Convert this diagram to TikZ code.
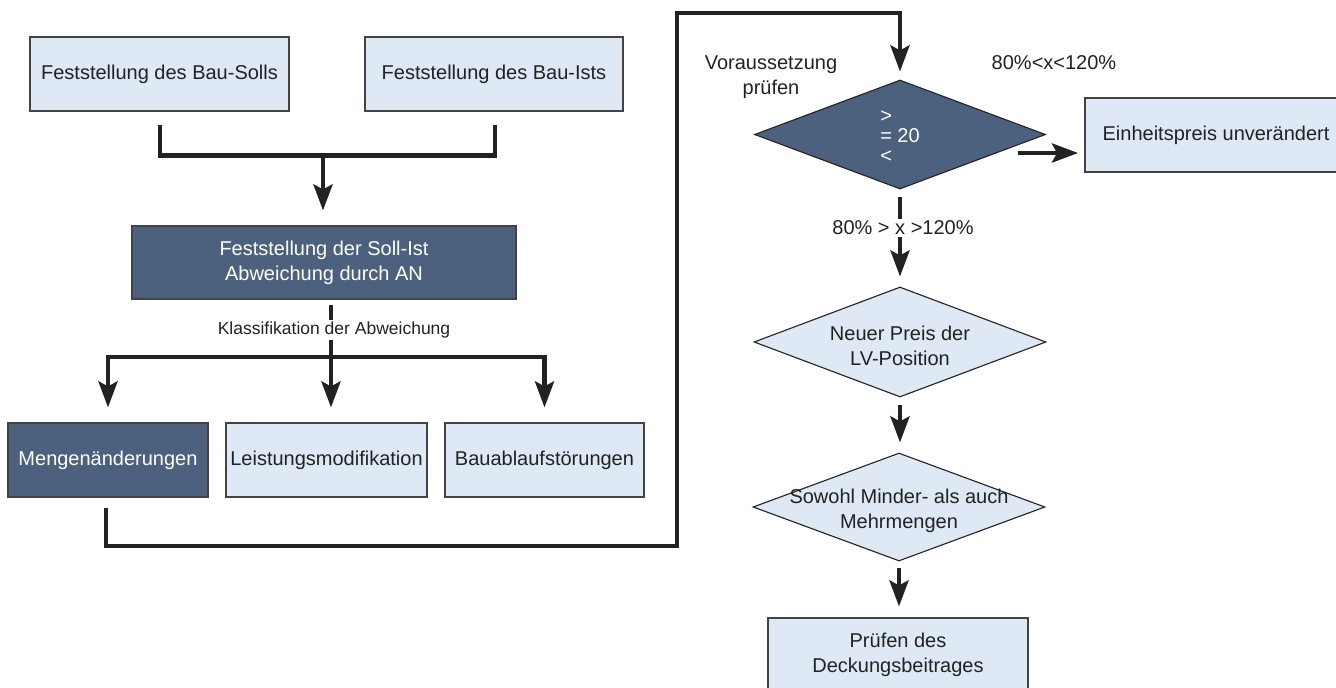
\documentclass[tikz,border=0pt]{standalone}
\usepackage{fontspec}
\setmainfont{Liberation Sans}
\usetikzlibrary{arrows.meta,shapes.geometric}
\definecolor{paleblue}{RGB}{222,233,245}
\definecolor{slate}{RGB}{76,97,126}
\definecolor{ink}{RGB}{34,34,34}
\begin{document}
\begin{tikzpicture}[x=1pt,y=-1pt,
  every node/.style={font=\fontsize{20}{25}\selectfont, text=ink},
  lightbox/.style={draw=ink!85, line width=1.1pt, fill=paleblue,
    minimum height=74pt, inner sep=0pt, align=center},
  darkbox/.style={lightbox, fill=slate, text=white},
  ddia/.style={diamond, draw=ink, line width=1.1pt, fill=slate, inner sep=0pt},
  ldia/.style={ddia, fill=paleblue},
  conn/.style={draw=ink, line width=4.5pt},
  arr/.style={conn, -{Stealth[length=26pt,width=19pt,inset=5pt]}},
  lbl/.style={fill=white, inner sep=1.5pt, align=center}
]
\fill[white] (0,0) rectangle (1336,688);
\useasboundingbox (0,0) rectangle (1336,688);

% left part: determination and classification
\node[lightbox, minimum width=259pt] (soll) at (159.5,74) {Feststellung des Bau-Solls};
\node[lightbox, minimum width=258pt] (ist) at (494,74) {Feststellung des Bau-Ists};
\node[darkbox, minimum width=384pt, minimum height=73pt] (abw) at (324,262.5)
  {Feststellung der Soll-Ist\\Abweichung durch AN};
\node[darkbox, minimum width=200pt] (menge) at (108,460) {Mengenänderungen};
\node[lightbox, minimum width=201pt] (leist) at (326.5,460) {Leistungsmodifikation};
\node[lightbox, minimum width=199pt] (stoer) at (544.5,460) {Bauablaufstörungen};

% right part: checking the quantity deviation
\node[ddia, minimum width=291pt, minimum height=109pt] (d1) at (900,134.5) {};
\node[ldia, minimum width=292pt, minimum height=110pt] (d2) at (900,342) {};
\node[ldia, minimum width=292pt, minimum height=108pt] (d3) at (899,507) {};
\node[lightbox, minimum width=262pt] (einh) at (1216,135) {Einheitspreis unverändert};
\node[lightbox, minimum width=260pt] (pruef) at (898,655) {Prüfen des\\Deckungsbeitrages};

\node[align=left, text=white, font=\fontsize{20}{20}\selectfont] (d1t) at (900,137) {>\\= 20\\<};
\node[align=center] (d2t) at (900,346) {Neuer Preis der\\LV-Position};
\node[align=center] (d3t) at (899,511) {Sowohl Minder- als auch\\Mehrmengen};
\node[align=center] (vor) at (771,77) {Voraussetzung\\prüfen};
\node (lo) at (1054,63) {80\%<x<120\%};

% connectors
\draw[conn] (soll.south) ++(0.5,13) -- ++(0,31) -| ([xshift=1pt,yshift=-13pt]ist.south);
\coordinate (j1) at (323,155);
\draw[arr, shorten >=15pt] (j1) -- (j1 |- abw.north);

\coordinate (hm) at (331,357);
\draw[conn] (abw.south) ++(7,5) -- (hm);
\draw[arr, shorten >=15pt] (hm) -| (menge.north);
\draw[arr, shorten >=15pt] (hm) -| (stoer.north);
\draw[arr, shorten >=15pt] (hm) -- (hm |- leist.north);

\coordinate (rt) at (677,546);
\coordinate (tp) at (677,13);
\draw[arr, shorten >=8pt] (menge.south) ++(-2,10) |- (rt) |- (tp -| d1.north) -- (d1.north);

\draw[arr, shorten >=10pt] (d1.south) ++(0,7) -- (d2.north);
\draw[arr] (d1.east) ++(-28,18.5) -- ++(60,0);
\draw[arr, shorten >=10pt] (d2.south) ++(0,7) -- (d2.south |- d3.north);
\draw[arr, shorten >=11pt] (d3.south) ++(0,6) -- (d3.south |- pruef.north);

% labels sitting on the connectors
\node[lbl, font=\fontsize{17.5}{20}\selectfont] (kl) at (334,330) {Klassifikation der Abweichung};
\node[lbl] (hi) at (903,228) {80\% > x >120\%};
\end{tikzpicture}
\end{document}
